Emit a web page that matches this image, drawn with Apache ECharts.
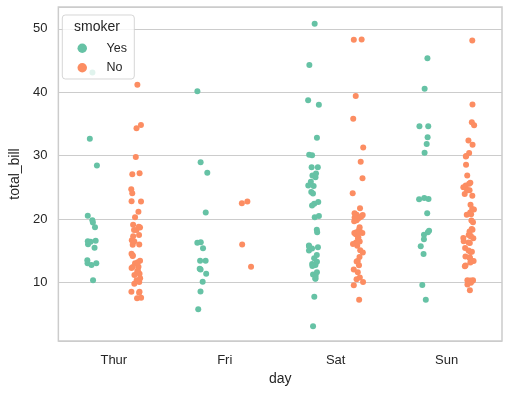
<!DOCTYPE html>
<html><head><meta charset="utf-8">
<script src="https://cdn.jsdelivr.net/npm/echarts@6/dist/echarts.min.js"></script>
<style>html,body{margin:0;padding:0;background:#fff}#c{width:510px;height:393px}</style>
</head><body><div id="c"></div>
<script>
const days = ['Thur', 'Fri', 'Sat', 'Sun'];
const smokers = ['Yes', 'No'];
const yTicks = [10, 20, 30, 40, 50];

const thurYes = [19.44, 32.68, 16.00, 19.81, 28.44, 15.48, 16.58, 10.34, 43.11, 13.00, 13.51, 18.71, 12.74, 13.00, 16.40, 20.53, 16.47];
const thurNo = [27.20, 22.76, 17.29, 16.66, 10.07, 15.98, 34.83, 13.03, 18.28, 24.71, 21.16, 10.65, 12.43, 24.08, 11.69, 13.42, 14.26, 15.95, 12.48, 29.80, 8.52, 14.52, 11.38, 22.82, 19.08, 20.27, 11.17, 12.26, 18.26, 8.51, 10.33, 14.15, 13.16, 17.47, 34.30, 41.19, 27.05, 16.43, 8.35, 18.64, 11.87, 9.78, 7.51, 7.56, 18.78];
const friYes = [28.97, 5.75, 16.32, 40.17, 27.28, 12.03, 21.01, 11.35, 15.38, 12.16, 13.42, 8.58, 13.42, 16.27, 10.09];
const friNo = [22.49, 22.75, 12.46, 15.98];
const satYes = [38.01, 11.24, 20.29, 13.81, 11.02, 18.29, 3.07, 15.01, 26.86, 25.28, 17.92, 44.30, 22.42, 15.36, 20.49, 25.21, 14.31, 10.59, 10.63, 50.81, 15.81, 26.59, 38.73, 24.27, 12.76, 30.06, 25.89, 13.27, 28.17, 12.90, 28.15, 11.59, 7.74, 30.14, 22.12, 24.01, 15.69, 15.53, 12.60, 32.83, 27.18, 22.67];
const satNo = [20.65, 17.92, 20.29, 15.77, 39.42, 19.82, 17.81, 13.37, 12.69, 21.70, 19.65, 9.55, 18.35, 15.06, 20.69, 17.78, 24.06, 16.31, 16.93, 18.69, 31.27, 16.04, 26.41, 48.27, 17.59, 20.08, 16.45, 20.23, 12.02, 17.07, 14.73, 10.51, 20.92, 18.24, 14.00, 7.25, 48.33, 20.45, 13.28, 11.61, 10.77, 10.07, 35.83, 29.03, 17.82];
const sunYes = [17.51, 7.25, 31.85, 16.82, 32.90, 17.89, 14.48, 9.60, 34.63, 34.65, 23.33, 45.35, 23.17, 40.55, 20.90, 30.46, 18.15, 23.10, 15.69];
const sunNo = [16.99, 10.34, 21.01, 23.68, 24.59, 25.29, 8.77, 26.88, 15.04, 14.78, 10.27, 35.26, 15.42, 18.43, 14.83, 21.58, 10.33, 16.29, 16.97, 17.46, 13.94, 9.68, 30.40, 18.29, 22.23, 32.40, 28.55, 18.04, 12.54, 10.29, 34.81, 9.94, 25.56, 19.49, 38.07, 23.95, 25.71, 17.31, 29.93, 14.07, 13.13, 17.26, 24.55, 19.77, 29.85, 48.17, 25.00, 13.39, 16.49, 21.50, 12.66, 16.21, 13.81, 24.52, 20.76, 31.71, 20.69];

const byDay = {
  Yes: [thurYes, friYes, satYes, sunYes],
  No: [thurNo, friNo, satNo, sunNo]
};

// 5 sub-slots per day; dodge: Yes at slot 1 (-0.2), No at slot 3 (+0.2)
const SLOTS = 5;
const slotNames = [];
days.forEach(d => { for (let i = 0; i < SLOTS; i++) slotNames.push(d + '_' + i); });
const slotOf = { Yes: 1, No: 3 };

function buildData(sm) {
  const out = [];
  byDay[sm].forEach((vals, di) => {
    vals.forEach(v => out.push([di * SLOTS + slotOf[sm], v]));
  });
  return out;
}

const colors = { Yes: '#66c2a5', No: '#fc8d62' };
const txt = '#262626';
const font = 'Arial, "Liberation Sans", Helvetica, sans-serif';

const chart = echarts.init(document.getElementById('c'), null, { renderer: 'canvas' });
chart.setOption({
  animation: false,
  backgroundColor: '#ffffff',
  textStyle: { fontFamily: font, color: txt },
  grid: {
    left: 54, right: 8, top: 7, bottom: 52,
    show: true, borderColor: '#cccccc', borderWidth: 1.5, backgroundColor: 'transparent'
  },
  xAxis: [
    {
      type: 'category', data: slotNames, boundaryGap: true, show: false,
      jitter: 11, jitterOverlap: true
    },
    {
      type: 'category', data: days, boundaryGap: true, position: 'bottom',
      axisLine: { show: false }, axisTick: { show: false }, splitLine: { show: false },
      axisLabel: { fontSize: 13, color: txt, margin: 13, fontFamily: font },
      name: 'day', nameLocation: 'middle', nameGap: 30,
      nameTextStyle: { fontSize: 14, color: txt, fontFamily: font }
    }
  ],
  yAxis: {
    type: 'value', min: 0.75, max: 53.45,
    axisLine: { show: false }, axisTick: { show: false },
    splitLine: { show: true, lineStyle: { color: '#cccccc', width: 1 } },
    axisLabel: {
      fontSize: 13, color: txt, margin: 11, fontFamily: font,
      showMinLabel: false, showMaxLabel: false,
      formatter: v => (yTicks.indexOf(Math.round(v)) >= 0 && Math.abs(v - Math.round(v)) < 1e-6) ? String(Math.round(v)) : ''
    },
    name: 'total_bill', nameLocation: 'middle', nameGap: 34, nameRotate: 90,
    nameTextStyle: { fontSize: 14, color: txt, fontFamily: font }
  },
  legend: {
    data: smokers, orient: 'vertical', left: 77.5, top: 41.5, padding: 0,
    icon: 'circle', itemWidth: 9.5, itemHeight: 9.5, itemGap: 6,
    z: 6,
    textStyle: { fontSize: 12.5, color: txt, fontFamily: font, lineHeight: 13.5, padding: [0, 0, 0, 14.5] },
    selectedMode: false
  },
  graphic: [
    {
      type: 'rect', z: 5, silent: true,
      shape: { x: 62.3, y: 15, width: 72, height: 64, r: 3 },
      style: { fill: 'rgba(255,255,255,0.8)', stroke: 'rgba(204,204,204,0.8)', lineWidth: 1 }
    },
    {
      type: 'text', z: 6, silent: true, x: 97, y: 27,
      style: { text: 'smoker', fontSize: 14, fill: txt, fontFamily: font, align: 'center', verticalAlign: 'middle' }
    }
  ],
  series: smokers.map(sm => ({
    name: sm, type: 'scatter', xAxisIndex: 0, yAxisIndex: 0,
    symbol: 'circle', symbolSize: 6,
    itemStyle: { color: colors[sm], opacity: 1 },
    data: buildData(sm)
  }))
});
</script>
</body></html>
